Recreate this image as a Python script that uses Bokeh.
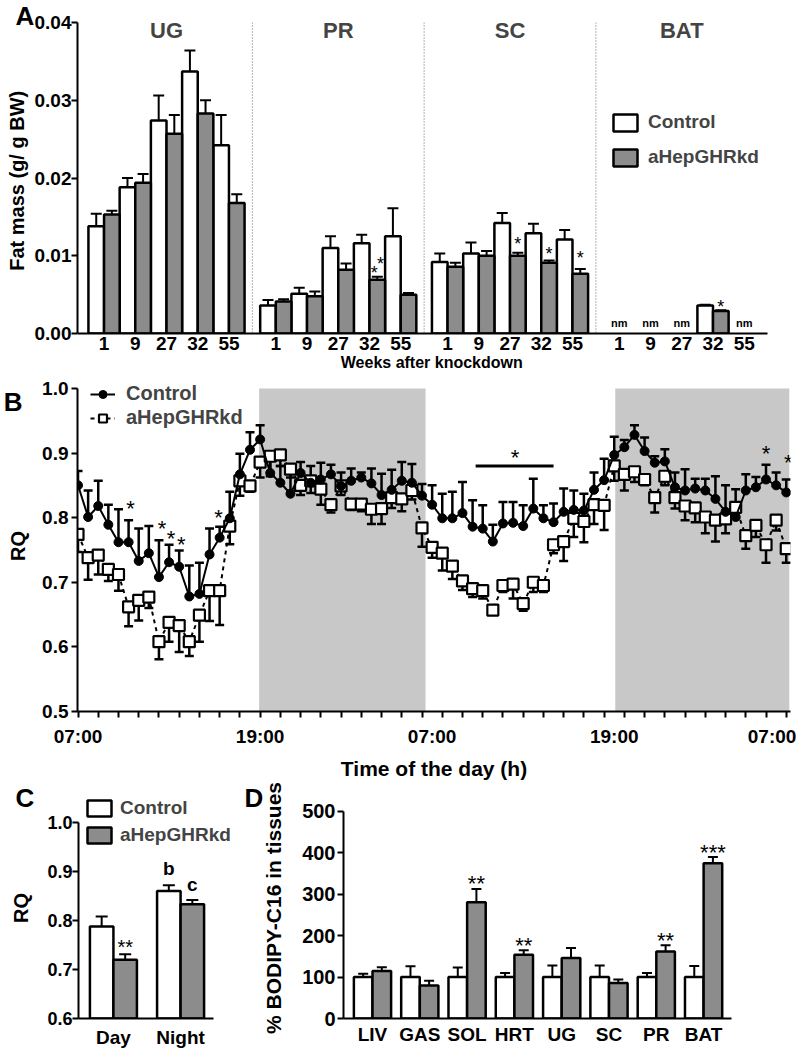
from bokeh.plotting import figure
from bokeh.models import (ColumnDataSource, Whisker, TeeHead, FixedTicker, Label, LinearAxis,
                          Span, BoxAnnotation, Legend, LegendItem, PrintfTickFormatter, Range1d)
from bokeh.layouts import column, row
from bokeh.embed import file_html
from bokeh.resources import INLINE
from bokeh.core.properties import value

FONT = "Liberation Sans"
GREY = "#8c8c8c"
BAND = "#c8c8c8"

# ---------------- Panel A data (fat mass, g/g BW) ----------------
weeks = ["1", "9", "27", "32", "55"]
depots = ["UG", "PR", "SC", "BAT"]
ug_ctrl = [0.0138, 0.0188, 0.0274, 0.0337, 0.0242]
ug_ctrl_sem = [0.0016, 0.0012, 0.0032, 0.0027, 0.0039]
ug_kd = [0.0153, 0.0194, 0.0257, 0.0283, 0.0168]
ug_kd_sem = [0.0005, 0.0011, 0.0024, 0.0017, 0.0011]
pr_ctrl = [0.0036, 0.0051, 0.0110, 0.0116, 0.0125]
pr_ctrl_sem = [0.0007, 0.0008, 0.0015, 0.0011, 0.0036]
pr_kd = [0.0041, 0.0048, 0.0082, 0.0069, 0.0050]
pr_kd_sem = [0.0003, 0.0006, 0.0008, 0.0004, 0.0002]
sc_ctrl = [0.0092, 0.0103, 0.0142, 0.0129, 0.0121]
sc_ctrl_sem = [0.0011, 0.0014, 0.0013, 0.0012, 0.0012]
sc_kd = [0.0086, 0.0100, 0.0100, 0.0091, 0.0077]
sc_kd_sem = [0.0005, 0.0006, 0.0004, 0.0003, 0.0006]
bat_ctrl = [None, None, None, 0.0036, None]
bat_ctrl_sem = [None, None, None, 0.0001, None]
bat_kd = [None, None, None, 0.0029, None]
bat_kd_sem = [None, None, None, 0.0001, None]
# significance marks: depot index, week index, small x shift, y
a_marks_depot = [1, 1, 2, 2, 2, 3]
a_marks_week = [3, 3, 2, 3, 4, 3]
a_marks_dx = [-0.2, 0.2, 0.0, 0.0, 0.0, 0.0]
a_marks_y = [0.0078, 0.0089, 0.0115, 0.0102, 0.0097, 0.0034]

# ---------------- Panel B data (RQ time course) ----------------
rq_ctrl = [0.850, 0.801, 0.818, 0.789, 0.762, 0.762, 0.733, 0.745, 0.708, 0.731,
           0.724, 0.678, 0.682, 0.743, 0.769, 0.799, 0.867, 0.905, 0.921, 0.869,
           0.854, 0.837, 0.869, 0.854, 0.859, 0.867, 0.849, 0.857, 0.862, 0.853,
           0.835, 0.843, 0.857, 0.854, 0.834, 0.820, 0.799, 0.799, 0.807, 0.786,
           0.783, 0.763, 0.791, 0.792, 0.787, 0.814, 0.799, 0.793, 0.809, 0.812,
           0.811, 0.843, 0.858, 0.897, 0.909, 0.928, 0.903, 0.885, 0.887, 0.847,
           0.842, 0.845, 0.842, 0.829, 0.809, 0.801, 0.842, 0.847, 0.859, 0.850,
           0.839]
rq_ctrl_sem = [0.022, 0.041, 0.039, 0.031, 0.051, 0.034, 0.050, 0.042, 0.057, 0.027,
               0.025, 0.048, 0.048, 0.040, 0.017, 0.041, 0.032, 0.027, 0.022, 0.031,
               0.026, 0.038, 0.017, 0.026, 0.026, 0.015, 0.021, 0.019, 0.008, 0.023,
               0.033, 0.031, 0.029, 0.029, 0.018, 0.030, 0.038, 0.041, 0.048, 0.041,
               0.036, 0.026, 0.033, 0.032, 0.032, 0.046, 0.020, 0.029, 0.036, 0.030,
               0.026, 0.027, 0.033, 0.028, 0.011, 0.015, 0.021, 0.010, 0.019, 0.023,
               0.033, 0.015, 0.018, 0.035, 0.041, 0.043, 0.025, 0.016, 0.023, 0.020,
               0.020]
rq_kd = [0.774, 0.738, 0.742, 0.720, 0.712, 0.662, 0.672, 0.677, 0.608, 0.638,
         0.633, 0.608, 0.649, 0.687, 0.687, 0.787, 0.857, 0.849, 0.886, 0.895,
         0.897, 0.875, 0.850, 0.857, 0.844, 0.820, 0.849, 0.821, 0.821, 0.813,
         0.814, 0.831, 0.829, 0.842, 0.784, 0.754, 0.745, 0.725, 0.702, 0.690,
         0.687, 0.657, 0.695, 0.697, 0.667, 0.700, 0.695, 0.758, 0.763, 0.799,
         0.794, 0.820, 0.819, 0.880, 0.867, 0.871, 0.859, 0.831, 0.864, 0.831,
         0.818, 0.815, 0.801, 0.796, 0.798, 0.816, 0.772, 0.788, 0.758, 0.796,
         0.752]
rq_kd_sem = [0.027, 0.034, 0.030, 0.018, 0.025, 0.030, 0.031, 0.017, 0.027, 0.030,
             0.041, 0.022, 0.041, 0.047, 0.053, 0.028, 0.023, 0.009, 0.024, 0.031,
             0.017, 0.013, 0.015, 0.019, 0.024, 0.012, 0.014, 0.009, 0.011, 0.023,
             0.024, 0.016, 0.019, 0.014, 0.029, 0.016, 0.027, 0.020, 0.014, 0.013,
             0.012, 0.007, 0.010, 0.022, 0.011, 0.015, 0.010, 0.013, 0.030, 0.029,
             0.032, 0.030, 0.038, 0.023, 0.025, 0.016, 0.009, 0.023, 0.014, 0.017,
             0.022, 0.022, 0.025, 0.033, 0.022, 0.016, 0.020, 0.018, 0.028, 0.016,
             0.022]
sample = list(range(len(rq_ctrl)))
time_tick_pos = [0, 18, 35, 53, 68.6]
time_tick_lbl = ["07:00", "19:00", "07:00", "19:00", "07:00"]
night_start = [17.9, 53.1]
night_end = [34.35, 70.3]
b_star_x = [5.2, 8.3, 9.2, 10.2, 13.9, 43.2, 68.0, 70.2]
b_star_y = [0.814, 0.783, 0.768, 0.758, 0.800, 0.893, 0.899, 0.885]
b_bar_x = [39.3, 47.0]
b_bar_y = 0.880

# ---------------- Panel C data (mean RQ) ----------------
periods = ["Day", "Night"]
c_ctrl = [0.788, 0.860]
c_ctrl_sem = [0.020, 0.012]
c_kd = [0.720, 0.833]
c_kd_sem = [0.011, 0.009]

# ---------------- Panel D data (% BODIPY-C16) ----------------
tissues = ["LIV", "GAS", "SOL", "HRT", "UG", "SC", "PR", "BAT"]
d_ctrl = [100, 100, 100, 100, 100, 100, 100, 100]
d_ctrl_sem = [8, 26, 23, 10, 28, 28, 10, 27]
d_kd = [115, 80, 281, 154, 146, 86, 162, 375]
d_kd_sem = [9, 11, 32, 11, 24, 8, 15, 15]
d_marks = ["", "", "**", "**", "", "", "**", "***"]


def style(p, tick_size="19px"):
    p.outline_line_color = None
    p.xgrid.grid_line_color = None
    p.ygrid.grid_line_color = None
    p.background_fill_color = "white"
    p.border_fill_color = "white"
    for ax in p.axis:
        ax.axis_line_width = 2
        ax.axis_line_color = "black"
        ax.major_tick_line_width = 2
        ax.major_tick_line_color = "black"
        ax.major_tick_in = 0
        ax.major_tick_out = 6
        ax.minor_tick_line_color = None
        ax.major_label_text_font = FONT
        ax.major_label_text_font_style = "bold"
        ax.major_label_text_font_size = tick_size
        ax.major_label_text_color = "black"
        ax.axis_label_text_font = FONT
        ax.axis_label_text_font_style = "bold"
        ax.axis_label_text_color = "black"


def letter(p, offset, standoff, valign):
    t = p.title
    t.align = "left"
    t.offset = offset
    t.standoff = standoff
    t.vertical_align = valign
    t.text_font = FONT
    t.text_font_style = "bold"
    t.text_font_size = "26px"
    t.text_color = "black"


def whisker(p, base, lower, upper, size, lw, up=True):
    src = ColumnDataSource(dict(base=base, lower=lower, upper=upper))
    head = TeeHead(size=size, line_width=lw, line_color="black")
    w = Whisker(source=src, base="base", lower="lower", upper="upper",
                line_width=lw, line_color="black",
                upper_head=head if up else None, lower_head=None if up else head)
    p.add_layout(w)


def legend(items, loc, gw, gh, spacing, standoff, size):
    return Legend(items=items, location=loc, padding=0, margin=0, spacing=spacing,
                  glyph_width=gw, glyph_height=gh, label_height=gh, label_standoff=standoff,
                  label_text_font=FONT, label_text_font_style="bold",
                  label_text_font_size=size, border_line_color=None,
                  background_fill_alpha=0)


# =================== Panel A ===================
pA = figure(width=800, height=378, x_range=Range1d(-0.7, 44.963), y_range=Range1d(0, 0.04),
            output_backend="svg", toolbar_location=None, title="A",
            min_border_left=72, min_border_right=10, min_border_top=22, min_border_bottom=45)

ctrl_groups = [(ug_ctrl, ug_ctrl_sem), (pr_ctrl, pr_ctrl_sem), (sc_ctrl, sc_ctrl_sem), (bat_ctrl, bat_ctrl_sem)]
kd_groups = [(ug_kd, ug_kd_sem), (pr_kd, pr_kd_sem), (sc_kd, sc_kd_sem), (bat_kd, bat_kd_sem)]


def collect(groups, shift):
    xs, tops, ups = [], [], []
    for g, (m, s) in enumerate(groups):
        for i in range(len(weeks)):
            if m[i] is None:
                continue
            xs.append(g * 11 + 2 * i + shift)
            tops.append(m[i])
            ups.append(m[i] + s[i])
    return xs, tops, ups


xa_c, ta_c, ua_c = collect(ctrl_groups, 0.5)
xa_k, ta_k, ua_k = collect(kd_groups, 1.5)
whisker(pA, xa_c, ta_c, ua_c, 11, 2)
whisker(pA, xa_k, ta_k, ua_k, 11, 2)
rA_c = pA.vbar(x=xa_c, top=ta_c, bottom=0, width=1.0, fill_color="white",
               line_color="black", line_width=2.5)
rA_k = pA.vbar(x=xa_k, top=ta_k, bottom=0, width=1.0, fill_color=GREY,
               line_color="black", line_width=2.5)

for sep in [10.5, 21.5, 32.5]:
    pA.add_layout(Span(location=sep, dimension="height", line_color="#666666",
                       line_width=1, line_dash="1 2"))

for g, name in enumerate(depots):
    pA.add_layout(Label(x=g * 11 + 5, y=0.039, text=name, text_font=FONT,
                        text_font_style="bold", text_font_size="22px",
                        text_align="center", text_baseline="middle"))

nm_x = [33 + 2 * i + 1 for i in range(len(weeks)) if bat_ctrl[i] is None]
pA.text(x=nm_x, y=[0.0013] * len(nm_x), text=["nm"] * len(nm_x), text_font=value(FONT),
        text_font_size="11px", text_font_style="bold", text_align="center",
        text_baseline="middle", text_color="black")

star_ax = [a_marks_depot[k] * 11 + 2 * a_marks_week[k] + 1.5 + a_marks_dx[k] for k in range(len(a_marks_y))]
pA.text(x=star_ax, y=a_marks_y, text=["*"] * len(star_ax), text_font=value(FONT),
        text_font_size="18px", text_align="center", text_baseline="middle", text_color="black")

ticksA = [g * 11 + 2 * i + 1 for g in range(4) for i in range(5)]
pA.xaxis.ticker = FixedTicker(ticks=ticksA)
pA.xaxis.major_label_overrides = {t: weeks[k % 5] for k, t in enumerate(ticksA)}
pA.xaxis.bounds = (-0.7, 43.5)
pA.yaxis.ticker = FixedTicker(ticks=[0, 0.01, 0.02, 0.03, 0.04])
pA.yaxis.formatter = PrintfTickFormatter(format="%.2f")
pA.yaxis.axis_label = "Fat mass (g/ g  BW)"
pA.xaxis.axis_label = "Weeks  after knockdown"
style(pA)
pA.xaxis.major_tick_out = 0
pA.xaxis.major_label_standoff = 3
pA.xaxis.axis_label_standoff = 1
pA.xaxis.axis_label_text_font_size = "16px"
pA.yaxis.major_label_standoff = 0
pA.yaxis.axis_label_standoff = 4
pA.yaxis.axis_label_text_font_size = "20px"
pA.add_layout(legend([LegendItem(label="Control", renderers=[rA_c]),
                      LegendItem(label="aHepGHRkd", renderers=[rA_k])],
                     (533, 165), 30, 21, 13, 8, "19px"))
letter(pA, -62, -17, "bottom")

# =================== Panel B ===================
pB = figure(width=800, height=404, x_range=Range1d(-0.05, 70.42), y_range=Range1d(0.5, 1.0122),
            output_backend="svg", toolbar_location=None,
            min_border_left=72, min_border_right=10, min_border_top=2, min_border_bottom=66)
for a, b in zip(night_start, night_end):
    pB.add_layout(BoxAnnotation(left=a, right=b, bottom=0.5, top=1.0, fill_color=BAND,
                                fill_alpha=1.0, line_color=None, level="underlay"))

whisker(pB, sample, [m - s for m, s in zip(rq_kd, rq_kd_sem)], rq_kd, 9, 2.5, up=False)
whisker(pB, sample, rq_ctrl, [m + s for m, s in zip(rq_ctrl, rq_ctrl_sem)], 9, 2.5, up=True)

lk = pB.line(sample, rq_kd, line_width=2, line_color="black", line_dash="4 4")
sk = pB.scatter(sample, rq_kd, marker="square", size=11, fill_color="white",
                line_color="black", line_width=2.2)
lc = pB.line(sample, rq_ctrl, line_width=2, line_color="black")
sc = pB.scatter(sample, rq_ctrl, marker="circle", size=9, fill_color="black", line_color="black")

pB.text(x=b_star_x, y=b_star_y, text=["*"] * len(b_star_x), text_font=value(FONT),
        text_font_size="22px", text_align="center", text_baseline="middle", text_color="black")
pB.line(b_bar_x, [b_bar_y, b_bar_y], line_width=3, line_color="black")

pB.xaxis.ticker = FixedTicker(ticks=time_tick_pos, minor_ticks=list(range(0, 71, 2)))
pB.xaxis.major_label_overrides = dict(zip(time_tick_pos, time_tick_lbl))
pB.yaxis.ticker = FixedTicker(ticks=[0.5, 0.6, 0.7, 0.8, 0.9, 1.0])
pB.yaxis.formatter = PrintfTickFormatter(format="%.1f")
pB.yaxis.bounds = (0.5, 1.0)
pB.xaxis.axis_label = "Time of the day (h)"
pB.yaxis.axis_label = "RQ"
style(pB)
pB.xaxis.major_tick_out = 0
pB.xaxis.minor_tick_line_color = "black"
pB.xaxis.minor_tick_line_width = 2
pB.xaxis.minor_tick_out = 6
pB.xaxis.minor_tick_in = 0
pB.xaxis.major_label_standoff = 8
pB.xaxis.axis_label_standoff = 7
pB.xaxis.axis_label_text_font_size = "21px"
pB.yaxis.major_label_standoff = 3
pB.yaxis.axis_label_standoff = 10
pB.yaxis.axis_label_text_font_size = "20px"
pB.add_layout(legend([LegendItem(label="Control", renderers=[lc, sc]),
                      LegendItem(label="aHepGHRkd", renderers=[lk, sk])],
                     (13, 282), 25, 20, 1, 11, "20px"))
# panel letter "B" carried by an outer, line-less axis
b_letter = LinearAxis(ticker=FixedTicker(ticks=[1.006]), major_label_overrides={1.006: "B"},
                      axis_line_color=None, major_tick_line_color=None, minor_tick_line_color=None,
                      major_tick_out=0, major_tick_in=0, major_label_standoff=-18,
                      major_label_text_font=FONT, major_label_text_font_style="bold",
                      major_label_text_font_size="26px", major_label_text_color="black")
pB.add_layout(b_letter, "left")

# =================== Panel C ===================
pC = figure(width=233, height=272, x_range=Range1d(-0.52, 1.788), y_range=Range1d(0.6, 1.051),
            output_backend="svg", toolbar_location=None, title="C",
            min_border_left=78, min_border_right=0, min_border_top=15, min_border_bottom=36)
xc_c = [k - 0.175 for k in range(len(periods))]
xc_k = [k + 0.175 for k in range(len(periods))]
whisker(pC, xc_c, c_ctrl, [m + s for m, s in zip(c_ctrl, c_ctrl_sem)], 12, 2)
whisker(pC, xc_k, c_kd, [m + s for m, s in zip(c_kd, c_kd_sem)], 12, 2)
rC_c = pC.vbar(x=xc_c, top=c_ctrl, bottom=0.6, width=0.35, fill_color="white",
               line_color="black", line_width=2.5)
rC_k = pC.vbar(x=xc_k, top=c_kd, bottom=0.6, width=0.35, fill_color=GREY,
               line_color="black", line_width=2.5)
pC.text(x=[xc_k[0]], y=[0.745], text=["**"], text_font=value(FONT), text_font_size="20px",
        text_align="center", text_baseline="middle", text_color="black")
pC.text(x=[xc_c[1], xc_k[1]], y=[0.906, 0.873], text=["b", "c"], text_font=value(FONT),
        text_font_size="19px", text_font_style="bold", text_align="center",
        text_baseline="middle", text_color="black")
pC.xaxis.ticker = FixedTicker(ticks=[0, 1])
pC.xaxis.major_label_overrides = {0: periods[0], 1: periods[1]}
pC.xaxis.bounds = (-0.52, 1.49)
pC.yaxis.ticker = FixedTicker(ticks=[0.6, 0.7, 0.8, 0.9, 1.0])
pC.yaxis.formatter = PrintfTickFormatter(format="%.1f")
pC.yaxis.bounds = (0.6, 1.0)
pC.yaxis.axis_label = "RQ"
style(pC, "18px")
pC.xaxis.major_tick_out = 0
pC.xaxis.major_label_standoff = 8
pC.xaxis.major_label_text_font_size = "19px"
pC.yaxis.major_label_standoff = 0
pC.yaxis.axis_label_standoff = 12
pC.yaxis.axis_label_text_font_size = "20px"
pC.add_layout(legend([LegendItem(label="Control", renderers=[rC_c]),
                      LegendItem(label="aHepGHRkd", renderers=[rC_k])],
                     (6, 172), 30, 20, 5, 6, "19px"))
letter(pC, -63, -30, "bottom")

# =================== Panel D ===================
pD = figure(width=567, height=272, x_range=Range1d(-0.613, 7.59), y_range=Range1d(0, 533.8),
            output_backend="svg", toolbar_location=None, title="D",
            min_border_left=110, min_border_right=69, min_border_top=15, min_border_bottom=36)
xd_c = [k - 0.197 for k in range(len(tissues))]
xd_k = [k + 0.197 for k in range(len(tissues))]
whisker(pD, xd_c, d_ctrl, [m + s for m, s in zip(d_ctrl, d_ctrl_sem)], 10, 2)
whisker(pD, xd_k, d_kd, [m + s for m, s in zip(d_kd, d_kd_sem)], 10, 2)
pD.vbar(x=xd_c, top=d_ctrl, bottom=0, width=0.393, fill_color="white",
        line_color="black", line_width=2.5)
pD.vbar(x=xd_k, top=d_kd, bottom=0, width=0.393, fill_color=GREY,
        line_color="black", line_width=2.5)
mk = [k for k in range(len(tissues)) if d_marks[k]]
pD.text(x=[xd_k[k] for k in mk], y=[d_kd[k] + d_kd_sem[k] + 12 for k in mk],
        text=[d_marks[k] for k in mk], text_font=value(FONT), text_font_size="22px",
        text_align="center", text_baseline="middle", text_color="black")
pD.xaxis.ticker = FixedTicker(ticks=list(range(len(tissues))))
pD.xaxis.major_label_overrides = {k: t for k, t in enumerate(tissues)}
pD.yaxis.ticker = FixedTicker(ticks=[0, 100, 200, 300, 400, 500])
pD.yaxis.formatter = PrintfTickFormatter(format="%d")
pD.yaxis.bounds = (0, 500)
pD.yaxis.axis_label = "% BODIPY-C16 in tissues"
style(pD, "20px")
pD.xaxis.major_tick_out = 0
pD.xaxis.major_label_standoff = 5
pD.xaxis.major_label_text_font_size = "19px"
pD.yaxis.major_label_standoff = 2
pD.yaxis.axis_label_standoff = 14
pD.yaxis.axis_label_text_font_size = "21px"
letter(pD, -99, -30, "bottom")

layout = column(pA, pB, row(pC, pD))
open("out.html", "w").write(file_html(layout, INLINE))
